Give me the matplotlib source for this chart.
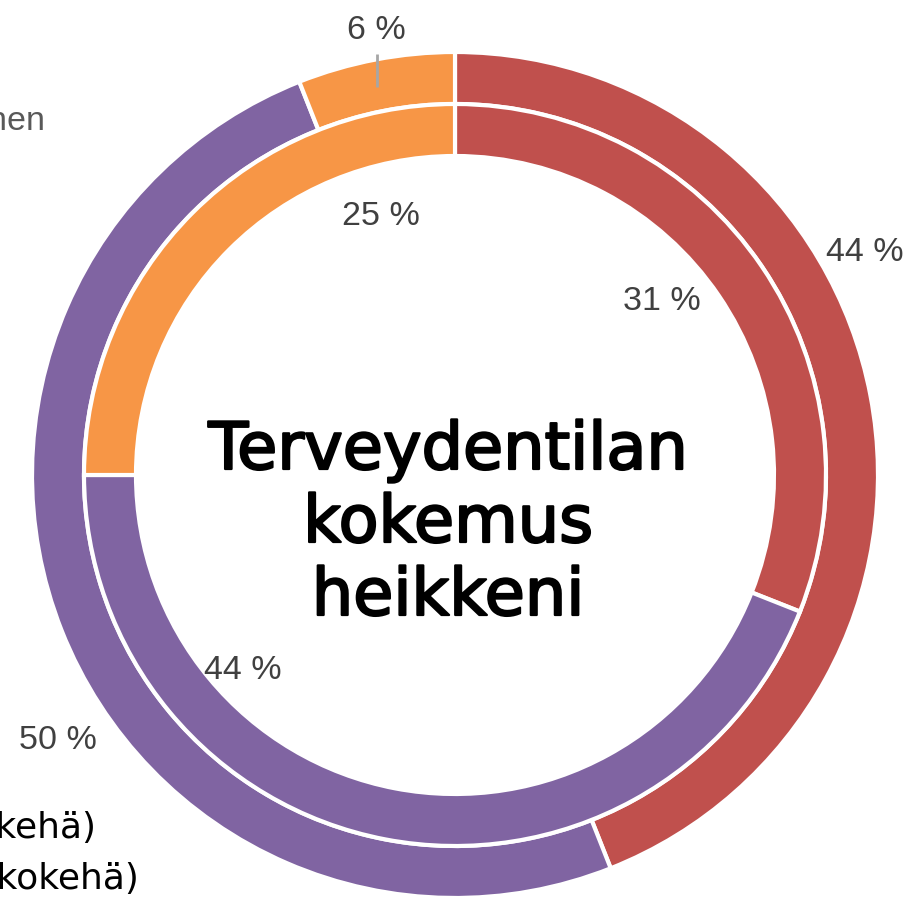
import matplotlib
matplotlib.use("Agg")
import matplotlib.pyplot as plt
import matplotlib.patheffects as pe

# ---- data ----
categories = ["Heikkeni", "Parani", "Samanlainen"]
outer_values = [44, 50, 6]   # ulkokehä
inner_values = [31, 44, 25]  # sisäkehä
colors = ["#C0504D", "#8064A2", "#F79646"]
center_title = "Terveydentilan\nkokemus\nheikkeni"
legend_labels = ["2020 (sisäkehä)", "2022 (ulkokehä)"]
side_label = "Samanlainen"

W, H = 912, 897
fig = plt.figure(figsize=(W / 100, H / 100), dpi=100)
ax = fig.add_axes([0, 0, 1, 1])
ax.set_xlim(0, W)
ax.set_ylim(0, H)
ax.axis("off")

def Y(y):
    return H - y

cx, cy = 455, Y(475)
R_out = 423
ring_w = 52

ax.pie(outer_values, colors=colors, radius=R_out, center=(cx, cy),
       startangle=90, counterclock=False,
       wedgeprops=dict(width=ring_w, edgecolor="white", linewidth=3))
ax.pie(inner_values, colors=colors, radius=R_out - ring_w, center=(cx, cy),
       startangle=90, counterclock=False,
       wedgeprops=dict(width=ring_w, edgecolor="white", linewidth=3))
ax.set_xlim(0, W)
ax.set_ylim(0, H)
ax.set_aspect("auto")

lab_font = dict(fontsize=24.5, color="#404040", family="Liberation Sans",
                ha="center", va="center")
# outer ring labels
outer_pos = [(865, 252), (58, 740), (376, 30)]
for v, (x, y) in zip(outer_values, outer_pos):
    ax.text(x, Y(y), f"{v} %", **lab_font)
# inner ring labels
inner_pos = [(662, 301), (243, 670), (381, 216)]
for v, (x, y) in zip(inner_values, inner_pos):
    ax.text(x, Y(y), f"{v} %", **lab_font)

# leader line for the small slice
ax.plot([377, 377], [Y(54), Y(87)], color="#A6A6A6", lw=2, solid_capstyle="butt")

# centre title
thick = [pe.withStroke(linewidth=1.6, foreground="black")]
ax.text(cx - 7, Y(524), center_title, fontsize=47,
        family="DejaVu Sans", ha="center", va="center", linespacing=1.18,
        color="black", path_effects=thick)

# cut-off texts on the left
ax.text(45, Y(121), side_label, fontsize=24.5, color="#595959",
        family="Liberation Sans", ha="right", va="center")
ax.text(96, Y(828), legend_labels[0], fontsize=26, family="DejaVu Sans",
        ha="right", va="center", color="black")
ax.text(139, Y(879), legend_labels[1], fontsize=26, family="DejaVu Sans",
        ha="right", va="center", color="black")

fig.savefig("out.png", dpi=100)
